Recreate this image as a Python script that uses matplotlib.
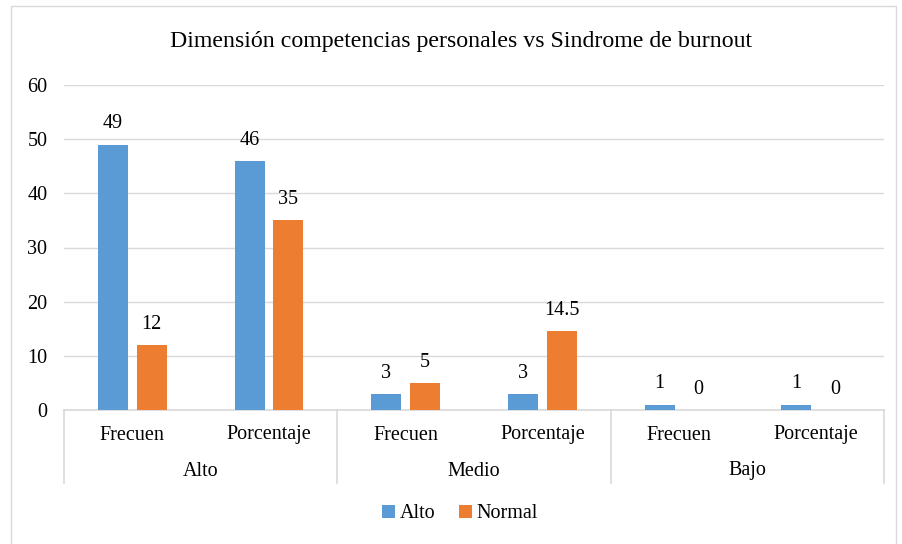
import matplotlib.pyplot as plt
import matplotlib.transforms as mtransforms
import numpy as np

plt.rcParams['font.family'] = ['Liberation Serif', 'DejaVu Serif']

groups = ['Alto', 'Medio', 'Bajo']
subcats = ['Frecuen', 'Porcentaje'] * 3
alto = [49, 46, 3, 3, 1, 1]
normal = [12, 35, 5, 14.5, 0, 0]
labels_alto = ['49', '46', '3', '3', '1', '1']
labels_normal = ['12', '35', '5', '14.5', '0', '0']

blue = '#5b9bd5'
orange = '#ed7d31'
grid = '#d9d9d9'
fs = 14.5

fig = plt.figure(figsize=[9.02, 5.44], dpi=100)
# outer chart border
fig.patches.append(plt.Rectangle((11/902, -0.01), 885/902, 1 - 6/544 + 0.01,
                                 transform=fig.transFigure, fill=False,
                                 edgecolor=grid, linewidth=1))
ax = fig.add_axes([64/902, 134/544, 820/902, 325/544])

x = np.arange(len(subcats))
w = 0.22
off = 0.142
b1 = ax.bar(x - off, alto, w, color=blue, label='Alto', zorder=3)
b2 = ax.bar(x + off, normal, w, color=orange, label='Normal', zorder=3)
for bars, labs in [(b1, labels_alto), (b2, labels_normal)]:
    for r, t in zip(bars, labs):
        ax.annotate(t, (r.get_x() + r.get_width()/2, r.get_height()),
                    xytext=(0, 8), textcoords='offset points',
                    ha='center', va='bottom', fontsize=fs)

ax.set_xlim(-0.5, len(subcats) - 0.5)
ax.set_ylim(0, 60)
ax.set_yticks(range(0, 61, 10))
ax.yaxis.grid(True, color=grid, linewidth=1, zorder=0)
for s in ['top', 'right', 'left']:
    ax.spines[s].set_visible(False)
ax.spines['bottom'].set_color(grid)
ax.spines['bottom'].set_linewidth(1.2)
ax.tick_params(axis='y', length=0, labelsize=fs, pad=12)
ax.tick_params(axis='x', length=0)
ax.set_xticks([])

trans = mtransforms.blended_transform_factory(ax.transData, ax.transAxes)
for i, s in enumerate(subcats):
    ax.text(i, -25/325, s, transform=trans, ha='center', va='center', fontsize=fs)
for g, name in enumerate(groups):
    ax.text(2*g + 0.5, -61/325, name, transform=trans, ha='center', va='center', fontsize=fs)
for xs in [-0.5, 1.5, 3.5, 5.5]:
    ax.plot([xs, xs], [0, -73/325], transform=trans, color=grid, linewidth=1.2,
            clip_on=False)

fig.text(461/902, 1 - 42/544, 'Dimensión competencias personales vs Sindrome de burnout',
         ha='center', va='center', fontsize=17.2)
fig.legend(loc='center', bbox_to_anchor=(460/902, 1 - 514/544), ncol=2, frameon=False,
           fontsize=fs, handlelength=0.65, handleheight=0.65, handletextpad=0.2,
           columnspacing=1.2)

plt.savefig('out.png', dpi=100)
